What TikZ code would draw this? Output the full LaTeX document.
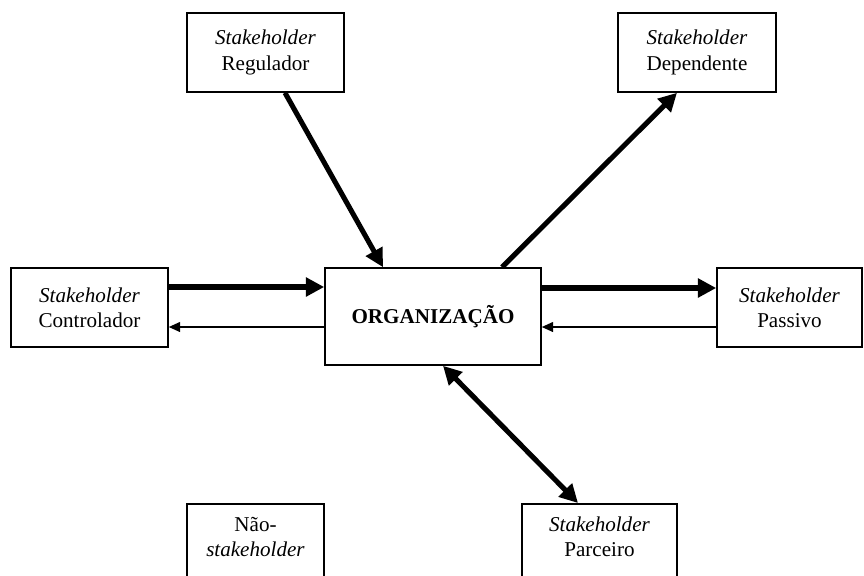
\documentclass[tikz,border=0pt]{standalone}
\usepackage{fontspec}
\setmainfont{Liberation Serif}
\usetikzlibrary{arrows.meta,positioning,calc}

\begin{document}
\begin{tikzpicture}[
    x=0.025cm, y=-0.025cm,
    shbox/.style={rectangle, draw=black, line width=1.1pt, inner sep=0pt, align=center, font=\fontsize{15}{18}\selectfont, minimum height=1.975cm},
    openbox/.style={shbox, anchor=north, minimum height=0pt, inner ysep=0.33cm, text depth=2cm},
    bigarr/.style={-{Triangle[length=13pt,width=13pt]}, line width=3.6pt},
    twoarr/.style={{Triangle[length=13pt,width=13pt]}-{Triangle[length=13pt,width=13pt]}, line width=3.6pt},
    thinarr/.style={-{Triangle[length=8pt,width=7pt]}, line width=1pt}
]
    \useasboundingbox (0,0) rectangle (864,575);

    \node[shbox, minimum width=3.925cm] (reg) at (265.5,52.5) {\textit{Stakeholder}\\Regulador};
    \node[shbox, minimum width=3.95cm] (dep) at (697,52.5) {\textit{Stakeholder}\\Dependente};
    \node[shbox, minimum width=3.925cm] (ctrl) at (89.5,307.5) {\textit{Stakeholder}\\Controlador};
    \node[shbox, minimum width=3.625cm] (pass) at (789.5,307.5) {\textit{Stakeholder}\\Passivo};
    \node[shbox, minimum width=5.4cm, minimum height=2.425cm, font=\fontsize{15}{18}\selectfont\bfseries] (org) at (433,316.5) {ORGANIZAÇÃO};
    \node[openbox, minimum width=3.875cm] (parc) at (599.5,503) {\textit{Stakeholder}\\Parceiro};
    \node[openbox, minimum width=3.425cm] (nao) at (255.5,503) {Não-\\\textit{stakeholder}};

    % diagonal links
    \draw[bigarr] ($(reg.south)+(19.5,0)$) -- ($(org.north)+(-50,0)$);
    \draw[bigarr] ($(org.north)+(69,0)$) -- ($(dep.south)+(-20,0)$);
    \draw[twoarr] ($(org.south)+(10,0)$) -- ($(parc.north)+(-21.5,0)$);

    % horizontal links
    \draw[bigarr] ($(ctrl.east)+(0,-20.5)$) coordinate (c1) -- (c1 -| org.west);
    \draw[thinarr] ($(org.west)+(0,10.5)$) coordinate (c2) -- (c2 -| ctrl.east);
    \draw[bigarr] ($(org.east)+(0,-28.5)$) coordinate (c3) -- (c3 -| pass.west);
    \draw[thinarr] ($(pass.west)+(0,19.5)$) coordinate (c4) -- (c4 -| org.east);
\end{tikzpicture}
\end{document}
